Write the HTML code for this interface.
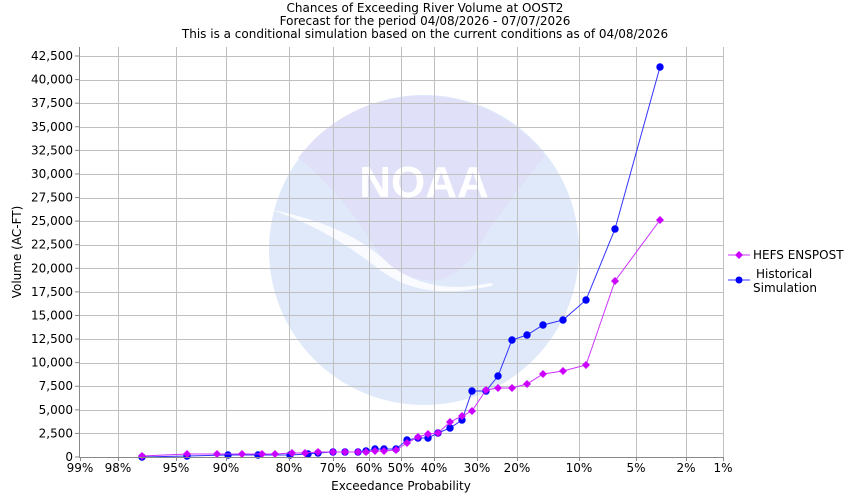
<!DOCTYPE html>
<html><head><meta charset="utf-8"><style>body{margin:0;background:#fff}svg{display:block}</style></head><body>
<svg width="850" height="500" xmlns="http://www.w3.org/2000/svg" font-family="'DejaVu Sans','Liberation Sans',sans-serif" font-size="12">
<rect width="850" height="500" fill="#fff"/>
<g font-size="12" text-anchor="middle" fill="#000">
<text x="425" y="12">Chances of Exceeding River Volume at OOST2</text>
<text x="425" y="25">Forecast for the period 04/08/2026 - 07/07/2026</text>
<text x="425" y="38">This is a conditional simulation based on the current conditions as of 04/08/2026</text>
</g>
<!-- watermark -->
<circle cx="424" cy="250" r="155" fill="#dfe9f9"/>
<path d="M298,158 A155,155 0 0 1 545,156 Q500,210 470,260 Q445,285 424,280 Q395,275 380,255 Q340,190 298,158Z" fill="#e0e0f8"/>
<path d="M272,210 Q330,230 380,270 Q420,300 480,288 Q500,285 490,283 Q430,296 390,265 Q350,225 272,210Z" fill="#fff" opacity="0.8"/>
<text x="424" y="197" font-size="44" font-weight="bold" fill="#fff" text-anchor="middle" font-family="'Liberation Sans',sans-serif">NOAA</text>
<g id="grid" stroke="#c0c0c0" stroke-width="1"></g>
<g id="data"></g>
<line x1="79.5" y1="47" x2="79.5" y2="457" stroke="#888"/>
<line x1="79" y1="457.5" x2="723" y2="457.5" stroke="#888"/>
<g id="labels" font-size="12" fill="#000"></g>
<text x="401" y="490" text-anchor="middle" font-size="12">Exceedance Probability</text>
<text transform="translate(21,252) rotate(-90)" text-anchor="middle" font-size="12">Volume (AC-FT)</text>
<line x1="728" y1="255" x2="750" y2="255" stroke="#cc33ff"/>
<path d="M739,251 L743,255 L739,259 L735,255Z" fill="#cc00ff"/>
<text x="753" y="259" font-size="12">HEFS ENSPOST</text>
<line x1="728" y1="280" x2="750" y2="280" stroke="#3333ff"/>
<circle cx="739" cy="280" r="3.5" fill="#0000ff"/>
<text x="756" y="278" font-size="12">Historical</text>
<text x="753" y="292" font-size="12">Simulation</text>
<script>
var ns="http://www.w3.org/2000/svg";
function el(t,a,p){var e=document.createElementNS(ns,t);for(var k in a)e.setAttribute(k,a[k]);document.getElementById(p).appendChild(e);return e;}
var g=document.getElementById("grid");
for(var i=1;i<=17;i++){var y=457-i*2500*0.009435;y=Math.round(y)+0.5;el("line",{x1:79,x2:723,y1:y,y2:y},"grid");
}
var xs=[[80,"99%"],[118,"98%"],[176,"95%"],[226,"90%"],[289,"80%"],[333,"70%"],[369,"60%"],[401,"50%"],[434,"40%"],[477,"30%"],[517,"20%"],[579,"10%"],[636,"5%"],[686,"2%"],[723,"1%"]];
xs.forEach(function(v){if(v[0]>80)el("line",{x1:v[0]+0.5,x2:v[0]+0.5,y1:47,y2:457},"grid");
var t=el("text",{x:v[0],y:472,"text-anchor":"middle"},"labels");t.textContent=v[1];
el("line",{x1:v[0]+0.5,x2:v[0]+0.5,y1:457,y2:461,stroke:"#888"},"labels");});
for(var i=0;i<=17;i++){var y=457-i*2500*0.009435;var t=el("text",{x:73,y:y+4,"text-anchor":"end"},"labels");t.textContent=(i*2500).toLocaleString("en-US");
el("line",{x1:75,x2:79,y1:y,y2:y,stroke:"#888"},"labels");}
var b=[[142,457],[187,456],[228,455],[258,455],[290,455],[308,454],[318,453],[333,452],[345,452],[358,452],[366,451],[375,449],[384,449],[396,449],[407,440],[418,438],[428,438],[438,433],[450,428],[462,420],[472,391],[486,391],[498,376],[512,340],[527,335],[543,325],[563,320],[586,300],[615,229],[660,67]];
var p=[[142,456],[187,454],[217,454],[242,454],[262,454],[275,454],[292,453],[305,453],[318,452],[333,452],[345,452],[358,452],[366,452],[375,451],[384,451],[396,450],[407,443],[418,437],[428,434],[438,433],[450,422],[462,416],[472,411],[486,390],[498,388],[512,388],[527,384],[543,374],[563,371],[586,365],[615,281],[660,220]];
el("polyline",{points:b.join(" "),fill:"none",stroke:"#3333ff"},"data");
b.forEach(function(q){el("circle",{cx:q[0],cy:q[1],r:3.7,fill:"#0000ff"},"data");});
el("polyline",{points:p.join(" "),fill:"none",stroke:"#cc33ff"},"data");
p.forEach(function(q){el("path",{d:"M"+q[0]+","+(q[1]-4)+" l4,4 l-4,4 l-4,-4z",fill:"#cc00ff"},"data");});
</script>
</svg>
</body></html>
